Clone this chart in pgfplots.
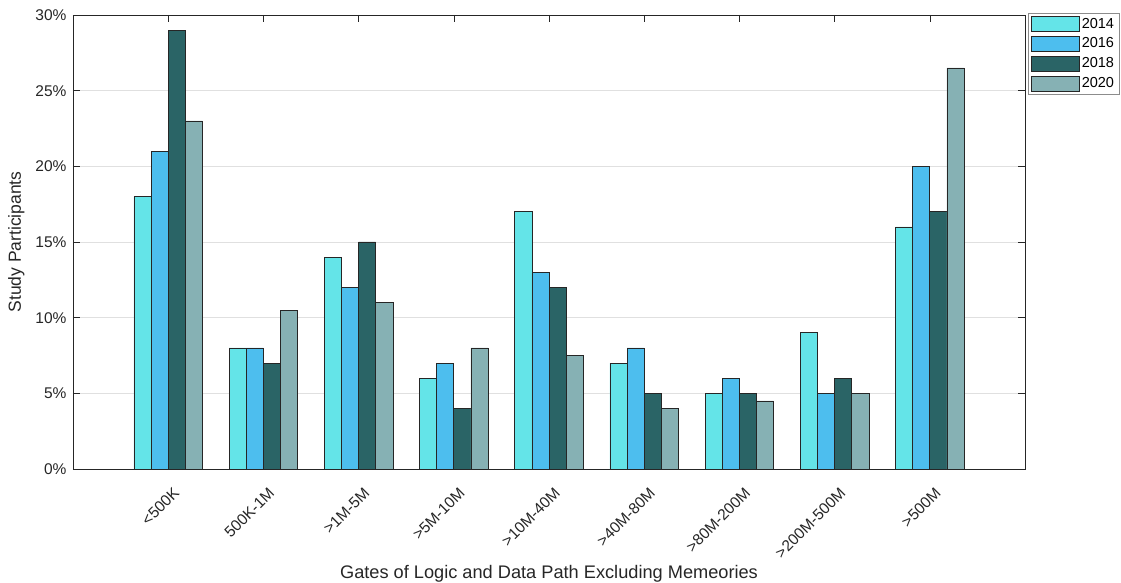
\documentclass[border=0pt]{standalone}
\usepackage{pgfplots}
\pgfplotsset{compat=1.18}
\usepackage{pgfplotstable}
\usepackage{fontspec}
\setmainfont{Liberation Sans}
\definecolor{c14}{HTML}{64E4E8}
\definecolor{c16}{HTML}{4DBEEE}
\definecolor{c18}{HTML}{2A6466}
\definecolor{c20}{HTML}{86B1B4}
\definecolor{axc}{HTML}{262626}
\pgfplotstableread{
x y14 y16 y18 y20
1 18 21 29 23
2 8 8 7 10.5
3 14 12 15 11
4 6 7 4 8
5 17 13 12 7.5
6 7 8 5 4
7 5 6 5 4.5
8 9 5 6 5
9 16 20 17 26.5
}\datatab
\pgfplotsset{mylegend/.style={legend image code/.code={\draw[##1] (0pt,-7.5pt) rectangle (48pt,7.5pt);}}}
\begin{document}
\begin{tikzpicture}
\useasboundingbox (-73pt,-114pt) rectangle (1048pt,469pt);
\begin{axis}[
  at={(0pt,0pt)}, anchor=south west,
  scale only axis, width=952pt, height=454pt,
  xmin=0, xmax=10, ymin=0, ymax=30,
  ybar=0pt, bar width=0.18,
  xtick={1,...,9},
  xticklabels={{<500K},{500K-1M},{>1M-5M},{>5M-10M},{>10M-40M},{>40M-80M},{>80M-200M},{>200M-500M},{>500M}},
  xticklabel style={rotate=45, anchor=north east, yshift=-12pt, xshift=-6pt, font=\fontsize{15.5}{18}\selectfont, text=axc},
  ytick={0,5,...,30},
  yticklabel={\pgfmathprintnumber{\tick}\%},
  yticklabel style={xshift=-3pt, font=\fontsize{15.5}{17}\selectfont, text=axc},
  /pgf/number format/assume math mode=true,
  ymajorgrids, major grid style={color=black!12, line width=0.6pt},
  tick align=inside, major tick length=7pt,
  tick style={color=axc, line width=0.6pt},
  xtick pos=both, ytick pos=both,
  axis line style={color=axc, line width=0.8pt},
  xlabel={Gates of Logic and Data Path Excluding Memeories},
  ylabel={Study Participants},
  label style={font=\fontsize{17.5}{20}\selectfont, text=axc},
  xlabel style={at={(0.5,0)}, anchor=north, yshift=-93pt, font=\fontsize{18.2}{21}\selectfont},
  ylabel style={at={(0,0.5)}, anchor=south, yshift=45pt},
  legend style={at={(1.003,1.005)}, anchor=north west, draw=black!45, font=\fontsize{14.5}{16}\selectfont,
    row sep=4.2pt, inner sep=3pt, cells={anchor=west}},
  legend cell align=left,
]
\addplot[fill=c14, draw=axc, line width=0.7pt, mylegend] table[x=x,y=y14]{\datatab};
\addplot[fill=c16, draw=axc, line width=0.7pt, mylegend] table[x=x,y=y16]{\datatab};
\addplot[fill=c18, draw=axc, line width=0.7pt, mylegend] table[x=x,y=y18]{\datatab};
\addplot[fill=c20, draw=axc, line width=0.7pt, mylegend] table[x=x,y=y20]{\datatab};
\legend{2014,2016,2018,2020}
\end{axis}
\end{tikzpicture}
\end{document}
